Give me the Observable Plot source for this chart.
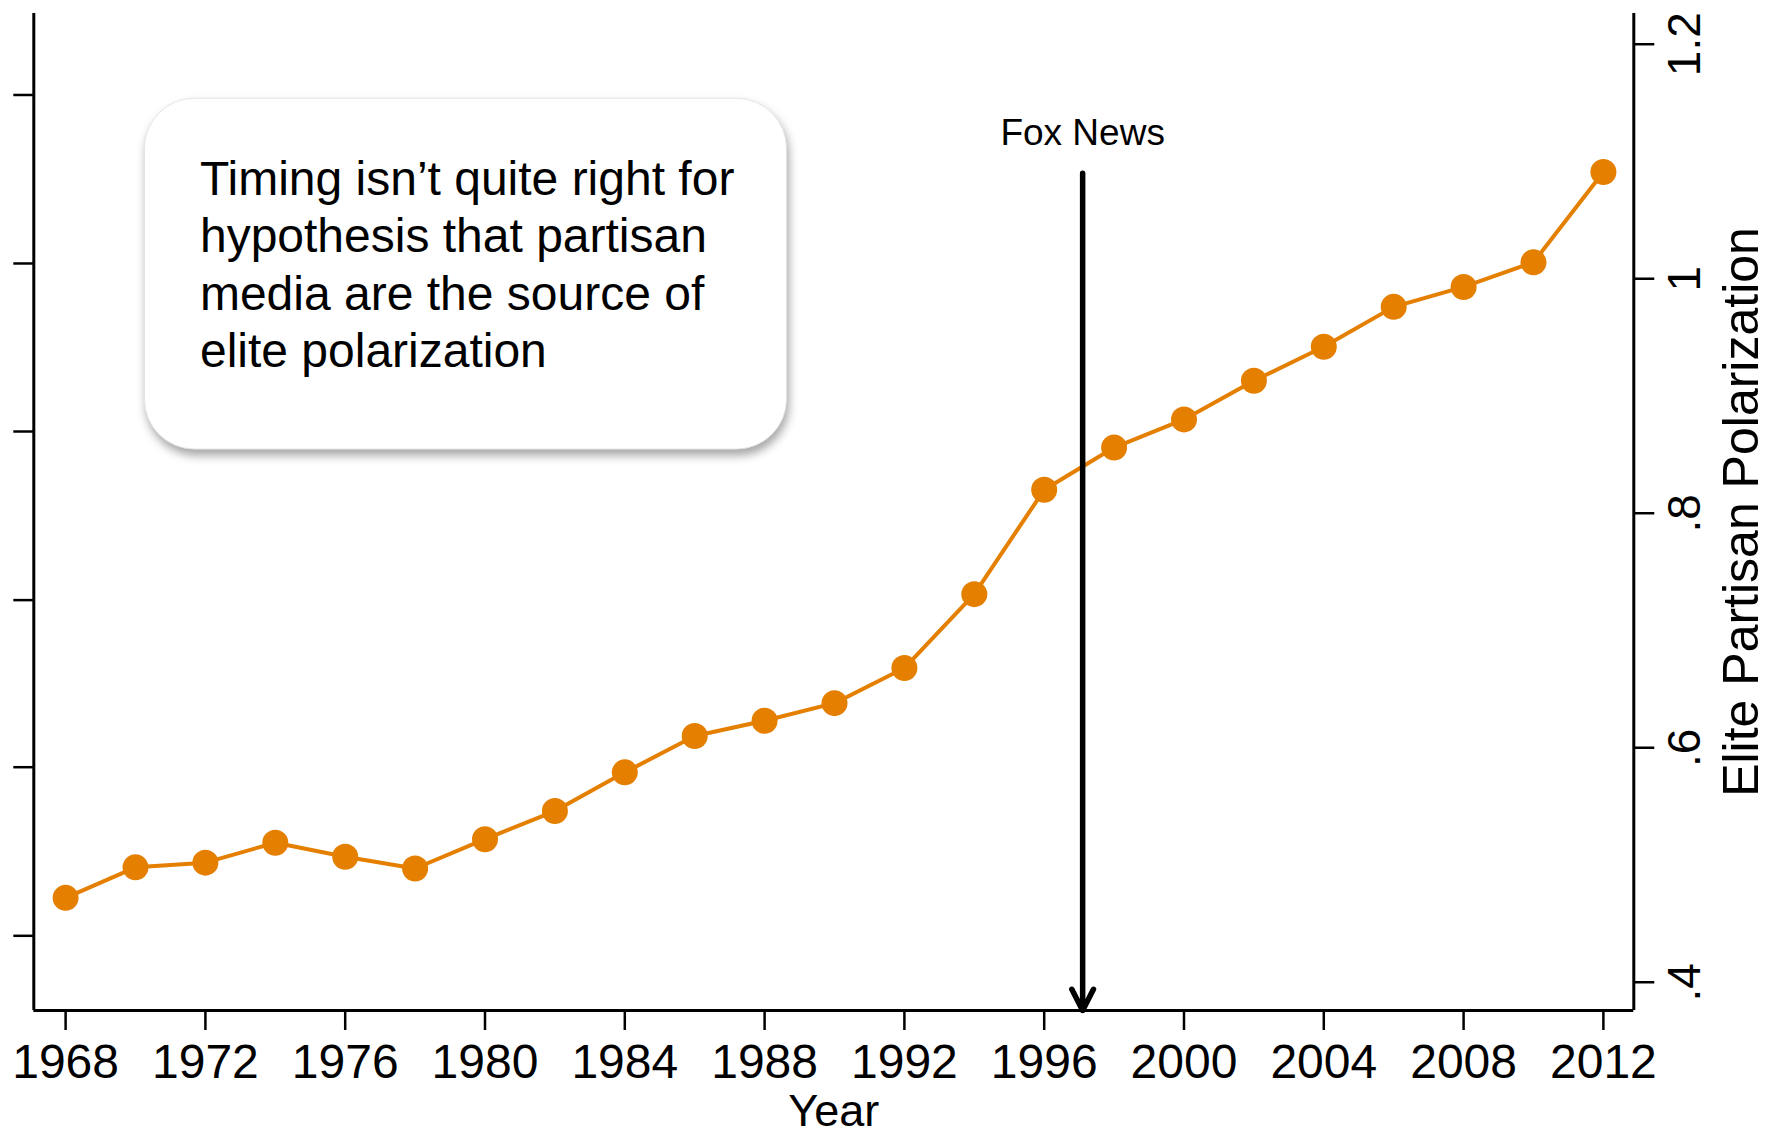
<!DOCTYPE html>
<html>
<head>
<meta charset="utf-8">
<script src="https://cdn.jsdelivr.net/npm/d3@7"></script>
<script src="https://cdn.jsdelivr.net/npm/@observablehq/plot@0.6"></script>
<style>
  html, body { margin: 0; padding: 0; background: #fff; }
  #chart svg { display: block; }
</style>
</head>
<body>
<div id="chart"></div>
<script>
// ---- data ----
const years = [1968, 1970, 1972, 1974, 1976, 1978, 1980, 1982, 1984, 1986, 1988, 1990,
               1992, 1994, 1996, 1998, 2000, 2002, 2004, 2006, 2008, 2010, 2012];
const polarization = [0.472, 0.498, 0.502, 0.519, 0.507, 0.497, 0.522, 0.546, 0.579, 0.610,
                      0.623, 0.638, 0.668, 0.731, 0.820, 0.856, 0.880, 0.913, 0.942, 0.976,
                      0.993, 1.014, 1.091];
const xTicks = [1968, 1972, 1976, 1980, 1984, 1988, 1992, 1996, 2000, 2004, 2008, 2012];
const rightTicks = [0.4, 0.6, 0.8, 1.0, 1.2];
const rightTickLabels = [".4", ".6", ".8", "1", "1.2"];
const leftTicks = [0.4396, 0.5834, 0.7259, 0.8697, 1.0130, 1.1567]; // unlabeled left-axis ticks
const xDomain = [1967.09, 2012.87];
const yDomain = [0.3759, 1.2262];
const xLabel = "Year";
const yLabel = "Elite Partisan Polarization";
const foxLabel = "Fox News";
const foxYear = 1997.1;
const foxArrowTop = 1.09;
const noteLines = [
  "Timing isn\u2019t quite right for",
  "hypothesis that partisan",
  "media are the source of",
  "elite polarization"
];
const noteBox = {x1: 1970.27, x2: 1988.64, y1: 0.8543, y2: 1.1535};

const orange = "#e47f00";
const table = years.map((year, i) => ({year, value: polarization[i]}));

const chart = Plot.plot({
  width: 1769,
  height: 1137,
  marginTop: 13,
  marginRight: 135.7,
  marginBottom: 127,
  marginLeft: 33.3,
  style: {fontFamily: "'Liberation Sans', Arial, Helvetica, sans-serif", background: "#fff", color: "#000"},
  x: {domain: xDomain},
  y: {domain: yDomain},
  marks: [
    // axes lines (box without top)
    Plot.ruleY([yDomain[0]], {stroke: "#000", strokeWidth: 3}),
    Plot.ruleX(xDomain, {stroke: "#000", strokeWidth: 3}),
    // x axis
    Plot.axisX({anchor: "bottom", ticks: xTicks, tickSize: 20, tickPadding: 13, fontSize: 48,
                tickFormat: d => String(d), label: null, strokeWidth: 2.5}),
    Plot.text([xLabel], {frameAnchor: "bottom", dy: 84, lineAnchor: "top", fontSize: 45}),
    // left axis (ticks only)
    Plot.axisY({anchor: "left", ticks: leftTicks, tickSize: 20, tickFormat: () => "", label: null, strokeWidth: 2.5}),
    // right axis
    Plot.axisY({anchor: "right", ticks: rightTicks, tickSize: 20, tickFormat: () => "", label: null, strokeWidth: 2.5}),
    Plot.text(rightTicks, {y: d => d, text: (d, i) => rightTickLabels[i], frameAnchor: "right",
                           rotate: -90, dx: 34, textAnchor: "middle", lineAnchor: "top", fontSize: 46}),
    Plot.text([yLabel], {frameAnchor: "right", rotate: -90, dx: 89, textAnchor: "middle",
                         lineAnchor: "top", fontSize: 50}),
    // note box
    Plot.rect([noteBox], {x1: "x1", x2: "x2", y1: "y1", y2: "y2", fill: "#fff",
                          stroke: "#e4e4e4", strokeWidth: 1, rx: 50}),
    Plot.text([noteLines.join("\n")], {x: () => noteBox.x1, y: () => noteBox.y2, dx: 55, dy: 56,
                                       textAnchor: "start", lineAnchor: "top", lineHeight: 1.19, fontSize: 48}),
    // data
    Plot.line(table, {x: "year", y: "value", stroke: orange, strokeWidth: 4}),
    Plot.dot(table, {x: "year", y: "value", r: 13, fill: orange, stroke: null}),
    // Fox News annotation
    Plot.arrow([foxLabel], {x1: () => foxYear, x2: () => foxYear, y1: () => foxArrowTop, y2: () => yDomain[0],
                            stroke: "#000", strokeWidth: 5.5, headLength: 6.5, headAngle: 54}),
    Plot.text([foxLabel], {x: () => foxYear, frameAnchor: "top", dy: 105, lineAnchor: "top", fontSize: 37})
  ]
});

const rectG = chart.querySelector('g[aria-label="rect"]');
if (rectG) rectG.setAttribute("style", "filter: drop-shadow(2px 6px 5px rgba(0,0,0,0.35))");

document.getElementById("chart").appendChild(chart);
</script>
</body>
</html>
